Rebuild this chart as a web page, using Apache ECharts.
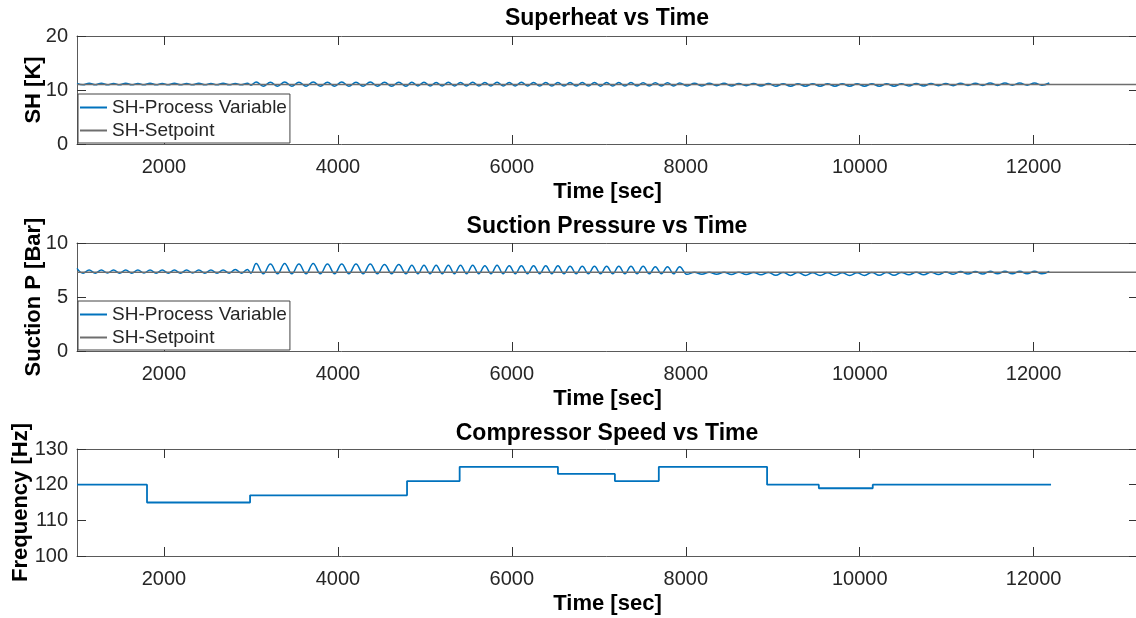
<!DOCTYPE html>
<html>
<head>
<meta charset="utf-8">
<script src="https://cdn.jsdelivr.net/npm/echarts@6/dist/echarts.min.js"></script>
<style>
html,body{margin:0;padding:0;background:#fff;}
#main{width:1136px;height:618px;}
</style>
</head>
<body>
<div id="main"></div>
<script>
// ---------- data ----------
const timeSec = [
  // 1000-2960
  1000,1070,1140,1210,1280,1350,1420,1490,1560,1630,1700,1770,1840,1910,1980,2050,2120,2190,2260,2330,2400,2470,2540,2610,2680,2750,2820,2890,2960,
  // 3000-4782
  3000,3060,3142,3224,3306,3388,3470,3552,3634,3716,3798,3880,3962,4044,4126,4208,4290,4372,4454,4536,4618,4700,4782,
  // 4850-7930
  4850,4920,4990,5060,5130,5200,5270,5340,5410,5480,5550,5620,5690,5760,5830,5900,5970,6040,6110,6180,6250,6320,6390,6460,6530,6600,6670,6740,6810,6880,6950,7020,7090,7160,7230,7300,7370,7440,7510,7580,7650,7720,7790,7860,7930,
  // 8015-12180
  8015,8100,8185,8270,8355,8440,8525,8610,8695,8780,8865,8950,9035,9120,9205,9290,9375,9460,9545,9630,9715,9800,9885,9970,10055,10140,10225,10310,10395,10480,10565,10650,10735,10820,10905,10990,11075,11160,11245,11330,11415,11500,11585,11670,11755,11840,11925,12010,12095,12180
];
const shPV = [
  11.2,10.95,11.25,10.95,11.25,10.95,11.2,10.95,11.25,10.95,11.2,10.95,11.25,10.95,11.2,10.95,11.25,10.95,11.2,10.95,11.25,10.95,11.2,10.95,11.25,10.95,11.2,10.95,11.25,
  10.9,11.5,10.7,11.45,10.7,11.5,10.7,11.45,10.7,11.5,10.7,11.45,10.7,11.5,10.7,11.45,10.7,11.5,10.7,11.45,10.7,11.45,10.7,
  11.45,10.75,11.45,10.75,11.4,10.75,11.45,10.75,11.4,10.75,11.45,10.75,11.4,10.75,11.45,10.75,11.4,10.75,11.45,10.75,11.4,10.75,11.4,10.75,11.4,10.75,11.4,10.75,11.4,10.75,11.4,10.7,11.4,10.75,11.4,10.75,11.4,10.75,11.35,10.75,11.35,10.75,11.35,10.75,11.3,
  10.75,11.25,10.75,11.25,10.8,11.25,10.75,11.2,10.8,11.2,10.75,11.2,10.7,11.15,10.7,11.15,10.7,11.15,10.7,11.15,10.7,11.15,10.7,11.15,10.7,11.15,10.7,11.15,10.7,11.15,10.75,11.2,10.75,11.2,10.8,11.2,10.8,11.25,10.85,11.25,10.85,11.3,10.85,11.3,10.9,11.3,10.9,11.3,10.9,11.3
];
const spPV = [
  7.65,7.2,7.5,7.2,7.5,7.22,7.5,7.2,7.5,7.2,7.5,7.22,7.5,7.2,7.5,7.2,7.5,7.2,7.5,7.22,7.5,7.2,7.5,7.2,7.5,7.2,7.55,7.2,7.55,
  7.2,8.1,7.15,8.05,7.15,8.1,7.15,8.05,7.15,8.1,7.15,8.05,7.15,8.05,7.15,8.05,7.15,8.05,7.15,8.0,7.15,8.0,7.15,
  7.95,7.15,7.95,7.15,7.95,7.15,7.95,7.15,7.95,7.15,7.95,7.15,7.9,7.15,7.95,7.15,7.9,7.15,7.9,7.15,7.9,7.15,7.9,7.15,7.9,7.15,7.85,7.15,7.85,7.15,7.85,7.15,7.85,7.15,7.85,7.15,7.85,7.15,7.85,7.15,7.8,7.15,7.8,7.15,7.8,
  7.1,7.3,7.1,7.3,7.1,7.3,7.08,7.3,7.08,7.28,7.05,7.28,7.02,7.28,7.0,7.28,7.0,7.25,7.0,7.25,7.0,7.25,7.0,7.25,7.0,7.28,7.02,7.28,7.02,7.28,7.05,7.3,7.05,7.3,7.08,7.32,7.1,7.35,7.12,7.35,7.12,7.38,7.15,7.38,7.15,7.38,7.15,7.38,7.15,7.38
];
const shSetpoint = 11;
const spSetpoint = 7.3;
const compTime = [1000,1805,2990,4795,5400,6530,7185,7690,8935,9530,10150,12200];
const compHz   = [120, 115, 117, 121, 125, 123, 121, 125, 120, 119, 120, 120];
const xRange = [1000, 13200];
const xTicks = [2000,4000,6000,8000,10000,12000];
const shTicks = [0,10,20];
const spTicks = [0,5,10];
const hzTicks = [100,110,120,130];
const legendNames = ['SH-Process Variable','SH-Setpoint'];

// ---------- chart ----------
const FONT = '"Liberation Sans", Arial, Helvetica, sans-serif';
const BLUE = '#0072BD', GRAY = '#6e6e6e', AXIS = '#5a5a5a';
const chart = echarts.init(document.getElementById('main'), null, {renderer:'canvas'});
const plain = v => String(v);

const grids = [
  {left:77, top:36, width:1061, height:108, outerBoundsMode:'none', containLabel:false},
  {left:77, top:243, width:1061, height:108, outerBoundsMode:'none', containLabel:false},
  {left:77, top:449, width:1061, height:107, outerBoundsMode:'none', containLabel:false}
];
const yConf = [
  {min:0,max:20,ticks:shTicks,name:'SH [K]',gap:32},
  {min:0,max:10,ticks:spTicks,name:'Suction P [Bar]',gap:32},
  {min:100,max:130,ticks:hzTicks,name:'Frequency [Hz]',gap:45}
];
const titles = ['Superheat vs Time','Suction Pressure vs Time','Compressor Speed vs Time'];
const titleTops = [7, 215, 422];

const xAxes = [], yAxes = [];
grids.forEach((g,i)=>{
  xAxes.push({
    gridIndex:i, type:'value', min:xRange[0], max:xRange[1], position:'bottom',
    axisLine:{onZero:false, lineStyle:{color:AXIS,width:1}},
    axisTick:{inside:true,length:9,customValues:xTicks,lineStyle:{color:'#333'}},
    axisLabel:{customValues:xTicks,formatter:plain,fontSize:20,color:'#262626',margin:13,fontFamily:FONT},
    splitLine:{show:false},
    name:'Time [sec]', nameLocation:'middle', nameGap:37, nameMoveOverlap:false,
    nameTextStyle:{fontSize:22,fontWeight:'bold',color:'#000',fontFamily:FONT}
  });
  xAxes.push({
    gridIndex:i, type:'value', min:xRange[0], max:xRange[1], position:'top',
    axisLine:{onZero:false, lineStyle:{color:AXIS,width:1}},
    axisTick:{inside:true,length:9,customValues:xTicks,lineStyle:{color:'#333'}},
    axisLabel:{show:false}, splitLine:{show:false}
  });
  const y = yConf[i];
  yAxes.push({
    gridIndex:i, type:'value', min:y.min, max:y.max, position:'left',
    axisLine:{show:true,onZero:false, lineStyle:{color:AXIS,width:1}},
    axisTick:{show:true,inside:true,length:9,customValues:y.ticks,lineStyle:{color:'#333'}},
    axisLabel:{customValues:y.ticks,formatter:plain,fontSize:20,color:'#262626',margin:9,fontFamily:FONT},
    splitLine:{show:false},
    name:y.name, nameLocation:'middle', nameGap:y.gap, nameRotate:90, nameMoveOverlap:false,
    nameTextStyle:{fontSize:22,fontWeight:'bold',color:'#000',fontFamily:FONT}
  });
  yAxes.push({
    gridIndex:i, type:'value', min:y.min, max:y.max, position:'right',
    axisLine:{show:true,onZero:false, lineStyle:{color:AXIS,width:1}},
    axisTick:{show:true,inside:true,length:9,customValues:y.ticks,lineStyle:{color:'#333'}},
    axisLabel:{show:false}, splitLine:{show:false}
  });
});

const shData = timeSec.map((t,k)=>[t, shPV[k]]);
const spData = timeSec.map((t,k)=>[t, spPV[k]]);
const compData = compTime.map((t,k)=>[t, compHz[k]]);

function legendFor(top){
  return {
    orient:'vertical', left:78, top:top, data:legendNames,
    backgroundColor:'#fff', borderColor:'#444', borderWidth:1, borderRadius:0,
    padding:[4,3,3,2], itemGap:4, itemWidth:27, itemHeight:2, icon:'rect',
    textStyle:{fontSize:19,color:'#262626',fontFamily:FONT},
    selectedMode:false
  };
}

chart.setOption({
  animation:false,
  backgroundColor:'#fff',
  title: titles.map((t,i)=>({
    text:t, left:607, top:titleTops[i], textAlign:'center', padding:0,
    textStyle:{fontSize:23,fontWeight:'bold',color:'#000',fontFamily:FONT}
  })),
  grid: grids,
  xAxis: xAxes,
  yAxis: yAxes,
  legend: [legendFor(94), legendFor(301)],
  series: [
    {name:legendNames[0], type:'line', xAxisIndex:0, yAxisIndex:0, data:shData, showSymbol:false, smooth:0.4,
     lineStyle:{color:BLUE,width:1.5}, itemStyle:{color:BLUE}},
    {name:legendNames[1], type:'line', xAxisIndex:0, yAxisIndex:0, data:[[xRange[0],shSetpoint],[xRange[1],shSetpoint]], showSymbol:false,
     lineStyle:{color:GRAY,width:1.5}, itemStyle:{color:GRAY}},
    {name:legendNames[0], type:'line', xAxisIndex:2, yAxisIndex:2, data:spData, showSymbol:false, smooth:0.4,
     lineStyle:{color:BLUE,width:1.5}, itemStyle:{color:BLUE}},
    {name:legendNames[1], type:'line', xAxisIndex:2, yAxisIndex:2, data:[[xRange[0],spSetpoint],[xRange[1],spSetpoint]], showSymbol:false,
     lineStyle:{color:GRAY,width:1.5}, itemStyle:{color:GRAY}},
    {name:'Compressor Speed', type:'line', xAxisIndex:4, yAxisIndex:4, data:compData, step:'end', showSymbol:false,
     lineStyle:{color:BLUE,width:1.8}, itemStyle:{color:BLUE}}
  ]
});
</script>
</body>
</html>
